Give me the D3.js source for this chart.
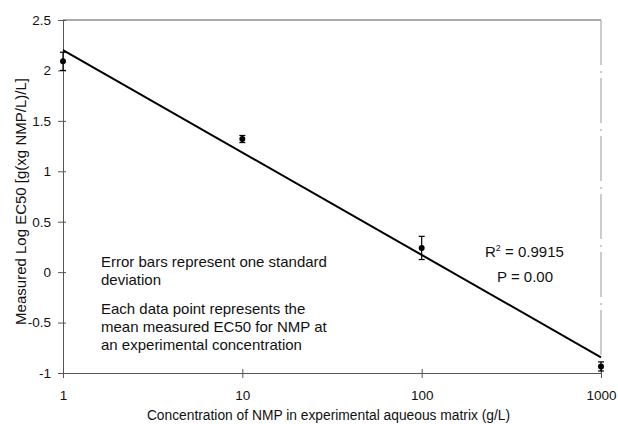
<!DOCTYPE html>
<html>
<head>
<meta charset="utf-8">
<script src="https://cdn.jsdelivr.net/npm/d3@7"></script>
<style>
  body { margin: 0; background: #fff; }
  text { font-family: "Liberation Sans", Arial, Helvetica, sans-serif; fill: #111; }
</style>
</head>
<body>
<script>
// data
var concentrations = [1, 10, 100, 1000];
var meanLogEC50 = [2.09, 1.32, 0.24, -0.935];
var stdDev = [0.09, 0.035, 0.115, 0.045];
var xTicks = [1, 10, 100, 1000];
var yTicks = [-1, -0.5, 0, 0.5, 1, 1.5, 2, 2.5];
var noteLines = ["Error bars represent one standard", "deviation",
                 "Each data point represents the", "mean measured EC50 for NMP at",
                 "an experimental concentration"];
var rSquared = "0.9915";
var pValue = "0.00";

var margin = {top: 20, right: 17, bottom: 51, left: 63};
var width = 618 - margin.left - margin.right;
var height = 424 - margin.top - margin.bottom;

var svg = d3.select("body").append("svg")
    .attr("width", 618)
    .attr("height", 424);

var g = svg.append("g")
    .attr("transform", "translate(" + margin.left + "," + margin.top + ")");

var xScale = d3.scaleLog().domain([1, 1000]).range([0, width]);
var yScale = d3.scaleLinear().domain([-1, 2.5]).range([height, 0]);

// frame (top and right sides)
g.append("line").attr("x1", 0).attr("x2", width).attr("y1", 0).attr("y2", 0)
    .attr("stroke", "#555").attr("stroke-width", 1);
g.append("line").attr("x1", width).attr("x2", width).attr("y1", 0).attr("y2", height)
    .attr("stroke", "#999").attr("stroke-width", 1).attr("stroke-dasharray", "45,6,2,5");

// axes
var xAxis = d3.axisBottom(xScale).tickValues(xTicks).tickFormat(d3.format("d"))
    .tickSizeInner(5).tickSizeOuter(0).tickPadding(12);
var xAxisGroup = g.append("g").attr("transform", "translate(0," + height + ")").call(xAxis);

var yAxis = d3.axisLeft(yScale).tickValues(yTicks).tickFormat(function(d){ return String(d); })
    .tickSizeInner(5).tickSizeOuter(0).tickPadding(7);
var yAxisGroup = g.append("g").call(yAxis);

[xAxisGroup, yAxisGroup].forEach(function(ax){
    ax.select(".domain").attr("stroke", "#555");
    ax.selectAll(".tick line").attr("stroke", "#555");
    ax.selectAll("text").style("font-size", "13.5px").attr("fill", "#111");
});
// ticks cross the axis a little
xAxisGroup.selectAll(".tick line").attr("y1", -4);
yAxisGroup.selectAll(".tick line").attr("x1", 3);

// least squares fit on log10(concentration)
var lx = concentrations.map(function(c){ return Math.log10(c); });
var mx = d3.mean(lx), my = d3.mean(meanLogEC50);
var slope = d3.sum(lx, function(v, i){ return (v - mx) * (meanLogEC50[i] - my); }) /
            d3.sum(lx, function(v){ return (v - mx) * (v - mx); });
var intercept = my - slope * mx;
var fitLine = d3.line()
    .x(function(d){ return xScale(d); })
    .y(function(d){ return yScale(intercept + slope * Math.log10(d)); });

g.append("path")
    .datum([1, 1000])
    .attr("d", fitLine)
    .attr("fill", "none")
    .attr("stroke", "#000")
    .attr("stroke-width", 2);

// error bars
var bars = g.selectAll("g.err")
    .data(concentrations)
    .enter()
    .append("g")
    .attr("class", "err");

bars.append("line")
    .attr("x1", function(d){ return xScale(d); })
    .attr("x2", function(d){ return xScale(d); })
    .attr("y1", function(d, i){ return yScale(meanLogEC50[i] + stdDev[i]); })
    .attr("y2", function(d, i){ return yScale(meanLogEC50[i] - stdDev[i]); })
    .attr("stroke", "#000").attr("stroke-width", 1.2);

[1, -1].forEach(function(sign){
    bars.append("line")
        .attr("x1", function(d){ return xScale(d) - 3; })
        .attr("x2", function(d){ return xScale(d) + 3; })
        .attr("y1", function(d, i){ return yScale(meanLogEC50[i] + sign * stdDev[i]); })
        .attr("y2", function(d, i){ return yScale(meanLogEC50[i] + sign * stdDev[i]); })
        .attr("stroke", "#000").attr("stroke-width", 1.2);
});

bars.append("circle")
    .attr("cx", function(d){ return xScale(d); })
    .attr("cy", function(d, i){ return yScale(meanLogEC50[i]); })
    .attr("r", 3)
    .attr("fill", "#000");

// notes (second paragraph set a little lower)
g.append("g").selectAll("text")
    .data(noteLines)
    .enter()
    .append("text")
    .attr("x", 38)
    .attr("y", function(d, i){ return 247 + i * 18 + (i >= 2 ? 11 : 0); })
    .style("font-size", "15px")
    .text(function(d){ return d; });

var r2 = g.append("text").attr("x", 422).attr("y", 237).style("font-size", "15px");
r2.append("tspan").text("R");
r2.append("tspan").attr("dy", -6).style("font-size", "9px").text("2");
r2.append("tspan").attr("dy", 6).text(" = " + rSquared);

g.append("text").attr("x", 434).attr("y", 262).style("font-size", "15px").text("P = " + pValue);

// axis titles
svg.append("text")
    .attr("x", 328.5)
    .attr("y", 420)
    .attr("text-anchor", "middle")
    .style("font-size", "13.8px")
    .text("Concentration of NMP in experimental aqueous matrix (g/L)");

svg.append("text")
    .attr("transform", "translate(26,201.5) rotate(-90)")
    .attr("text-anchor", "middle")
    .style("font-size", "15px")
    .text("Measured Log EC50 [g(xg NMP/L)/L]");
</script>
</body>
</html>
